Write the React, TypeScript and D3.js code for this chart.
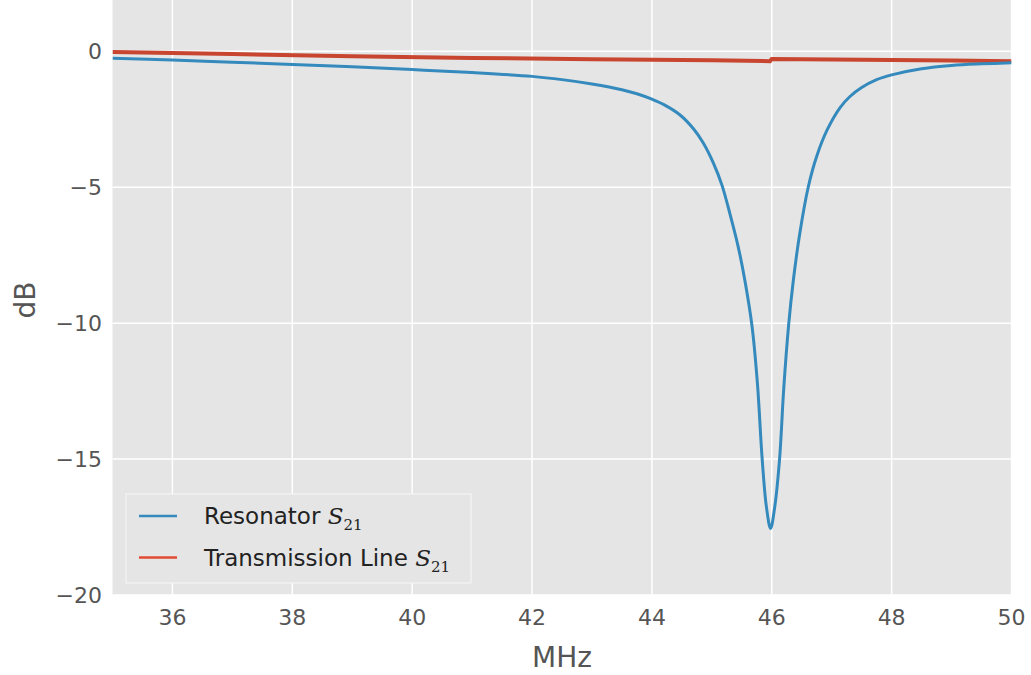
import React from "react";
import * as d3 from "d3";

// 共振器の S21 (MHz, dB)
const resFreq = [
  35, 36, 37, 38, 39, 40, 41, 42, 42.5, 43, 43.5, 43.75, 44, 44.2, 44.47, 44.69,
  44.86, 45.03, 45.17, 45.3, 45.44, 45.55, 45.67, 45.76, 45.84, 45.91, 45.98,
  46.05, 46.13, 46.2, 46.28, 46.36, 46.47, 46.61, 46.75, 46.92, 47.14, 47.3,
  47.5, 47.75, 48, 48.5, 49, 49.5, 50,
];
const resDb = [
  -0.25, -0.32, -0.4, -0.48, -0.57, -0.67, -0.78, -0.92, -1.04, -1.2, -1.41,
  -1.56, -1.76, -1.96, -2.34, -2.84, -3.38, -4.13, -4.93, -5.96, -7.19, -8.41,
  -10.1, -12.2, -15.0, -16.75, -17.55, -16.75, -15.0, -12.4, -10.1, -8.42,
  -6.66, -4.98, -3.86, -2.91, -2.07, -1.67, -1.33, -1.04, -0.865, -0.64, -0.52,
  -0.46, -0.42,
];

// 伝送線路の S21
const lineFreq = [35, 37, 39, 41, 43, 45, 45.97, 46.0, 47, 48, 49, 50];
const lineDb = [
  -0.02, -0.1, -0.18, -0.24, -0.29, -0.33, -0.36, -0.28, -0.3, -0.32, -0.34,
  -0.36,
];

const xTicks = [36, 38, 40, 42, 44, 46, 48, 50];
const yTicks = [0, -5, -10, -15, -20];

const seriesNames = ["Resonator", "Transmission Line"];
const seriesColors = ["#348ABD", "#C8452F"];
const legendColors = ["#348ABD", "#E24A33"];

const App = () => {
  const width = 1031;
  const height = 675;
  const left = 112.5;
  const right = 1011.5;
  const top = -3;
  const bottom = 595;

  const xScale = d3.scaleLinear().domain([35, 50]).range([left, right]);
  const yScale = d3.scaleLinear().domain([-20, 2]).range([bottom, top]);

  const line = d3
    .line<[number, number]>()
    .x((d) => xScale(d[0]))
    .y((d) => yScale(d[1]))
    .curve(d3.curveCatmullRom.alpha(0.5));

  const straight = d3
    .line<[number, number]>()
    .x((d) => xScale(d[0]))
    .y((d) => yScale(d[1]));

  const resPts = resFreq.map((f, i) => [f, resDb[i]] as [number, number]);
  const linePts = lineFreq.map((f, i) => [f, lineDb[i]] as [number, number]);

  const tickColor = "#555555";
  const font = "'DejaVu Sans', sans-serif";

  return (
    <svg
      width={width}
      height={height}
      style={{ position: "absolute", left: 0, top: 0, background: "#fff" }}
      fontFamily={font}
    >
      <defs>
        <clipPath id="plot-clip">
          <rect x={left} y={0} width={right - left} height={bottom} />
        </clipPath>
      </defs>
      {/* 背景 */}
      <rect x={left} y={0} width={right - left} height={bottom} fill="#E5E5E5" />

      {/* グリッド */}
      {xTicks.map((t) => (
        <line
          key={"gx" + t}
          x1={xScale(t)}
          x2={xScale(t)}
          y1={0}
          y2={bottom}
          stroke="#fff"
          strokeWidth={1.5}
        />
      ))}
      {yTicks.map((t) => (
        <line
          key={"gy" + t}
          x1={left}
          x2={right}
          y1={yScale(t)}
          y2={yScale(t)}
          stroke="#fff"
          strokeWidth={1.5}
        />
      ))}

      {/* 折れ線 */}
      <g clipPath="url(#plot-clip)">
        <path
          d={straight(linePts) ?? ""}
          fill="none"
          stroke={seriesColors[1]}
          strokeWidth={4}
        />
        <path
          d={line(resPts) ?? ""}
          fill="none"
          stroke={seriesColors[0]}
          strokeWidth={3}
          strokeLinejoin="round"
        />
      </g>

      {/* x軸の目盛り */}
      {xTicks.map((t) => (
        <text
          key={"tx" + t}
          x={xScale(t)}
          y={625}
          textAnchor="middle"
          fontSize={22}
          fill={tickColor}
        >
          {t}
        </text>
      ))}
      {/* y軸の目盛り */}
      {yTicks.map((t) => (
        <text
          key={"ty" + t}
          x={102}
          y={yScale(t)}
          dy="0.36em"
          textAnchor="end"
          fontSize={22}
          fill={tickColor}
        >
          {t < 0 ? "\u2212" + Math.abs(t) : t}
        </text>
      ))}

      {/* 軸ラベル */}
      <text
        x={(left + right) / 2}
        y={667}
        textAnchor="middle"
        fontSize={28}
        fill={tickColor}
      >
        MHz
      </text>
      <text
        transform={`translate(35,300) rotate(-90)`}
        textAnchor="middle"
        fontSize={28}
        fill={tickColor}
      >
        dB
      </text>

      {/* 凡例 */}
      <g>
        <rect
          x={126}
          y={494}
          width={345}
          height={89}
          fill="#E5E5E5"
          stroke="#f4f4f4"
          strokeWidth={1.2}
        />
        {seriesNames.map((name, i) => {
          const cy = 516 + i * 41.5;
          return (
            <g key={name}>
              <line
                x1={139}
                x2={177}
                y1={cy}
                y2={cy}
                stroke={legendColors[i]}
                strokeWidth={2.5}
              />
              <text x={204} y={cy + 8} fontSize={23} fill="#222">
                {name + " "}
                <tspan
                  fontFamily="'DejaVu Serif', 'Liberation Serif', serif"
                  fontStyle="italic"
                >
                  S
                </tspan>
                <tspan
                  fontFamily="'DejaVu Serif', 'Liberation Serif', serif"
                  fontSize={15}
                  dy={6}
                >
                  21
                </tspan>
              </text>
            </g>
          );
        })}
      </g>
    </svg>
  );
};

export default App;
